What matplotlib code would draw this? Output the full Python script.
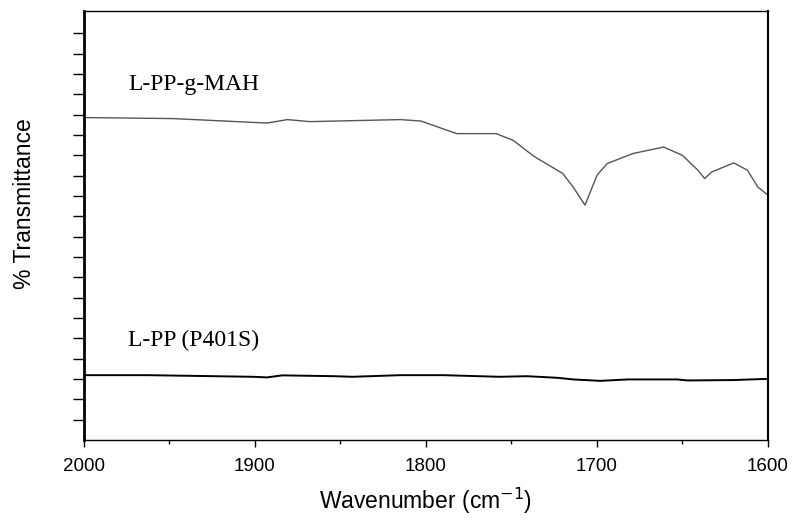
import matplotlib.pyplot as plt
import numpy as np

# FTIR spectra, 2000-1600 cm-1 (transmittance in arbitrary units, offset)
wn_mah = [2000, 1948, 1893, 1881, 1868, 1815, 1803, 1782, 1759, 1749, 1737,
          1720, 1714, 1707, 1700, 1694, 1679, 1661, 1650, 1641, 1637, 1633,
          1620, 1612, 1606, 1600]
t_mah = [15.86, 15.81, 15.59, 15.76, 15.66, 15.76, 15.69, 15.07, 15.07, 14.74,
         13.96, 13.11, 12.45, 11.55, 13.02, 13.60, 14.09, 14.41, 14.00, 13.27,
         12.86, 13.18, 13.63, 13.27, 12.45, 12.04]

wn_pp = [2000, 1963, 1901, 1893, 1884, 1854, 1843, 1815, 1790, 1757, 1741,
         1723, 1714, 1698, 1682, 1653, 1647, 1620, 1600]
t_pp = [3.19, 3.19, 3.11, 3.08, 3.18, 3.14, 3.11, 3.19, 3.19, 3.11, 3.14,
        3.06, 2.98, 2.91, 2.98, 2.98, 2.93, 2.95, 3.01]

fig = plt.figure(figsize=(7.96, 5.2), dpi=100)
ax = fig.add_axes([0.1055, 0.1538, 0.8593, 0.825])

ax.plot(wn_mah, t_mah, color='#555555', lw=1.0)
ax.plot(wn_pp, t_pp, color='black', lw=1.4)

ax.text(1974, 17.5, 'L-PP-g-MAH', family='Liberation Serif', fontsize=17,
        va='center', ha='left')
ax.text(1974, 4.91, 'L-PP (P401S)', family='Liberation Serif', fontsize=17,
        va='center', ha='left')

ax.set_xlim(2000, 1600)
ax.set_ylim(0, 21.1)
ax.set_xticks([2000, 1900, 1800, 1700, 1600])
ax.set_xticks([1950, 1850, 1750, 1650], minor=True)
ax.set_yticks(np.arange(1, 21))
ax.set_yticklabels([])
ax.tick_params(axis='x', which='major', direction='out', length=5, width=1,
               pad=8, labelsize=13.5)
ax.tick_params(axis='x', which='minor', direction='out', length=3, width=1)
ax.tick_params(axis='y', direction='out', length=8, width=1)
for lbl in ax.get_xticklabels():
    lbl.set_family('Liberation Sans')

ax.spines['left'].set_linewidth(2)
ax.spines['right'].set_linewidth(1.5)
ax.spines['top'].set_linewidth(1)
ax.spines['bottom'].set_linewidth(1)

ax.set_xlabel('Wavenumber (cm$^{-1}$)', family='Liberation Sans', fontsize=16.5,
              labelpad=8)
ax.set_ylabel('% Transmittance', family='Liberation Sans', fontsize=16.5)
ax.yaxis.set_label_coords(-0.07, 0.55)

fig.savefig('out.png', dpi=100)
